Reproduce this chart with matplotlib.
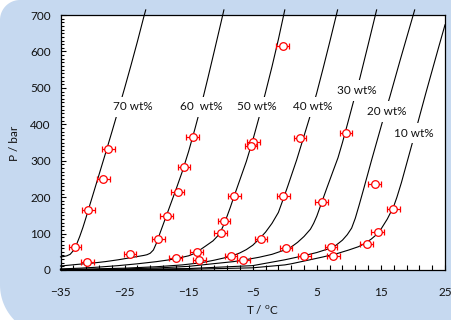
import numpy as np
import matplotlib
matplotlib.use("Agg")
import matplotlib.pyplot as plt
from matplotlib.path import Path
from matplotlib.patches import PathPatch

plt.rcParams['font.family'] = ['Lato', 'DejaVu Sans']
plt.rcParams['mathtext.fontset'] = 'custom'
plt.rcParams['mathtext.rm'] = 'Lato'
plt.rcParams['mathtext.it'] = 'Lato:italic'

# ---------------- data ----------------
c70_T = [-35, -34.5, -34, -33.5, -33, -32.5, -32, -31.5, -31, -30.66, -30, -29, -28, -27, -26, -25, -24, -23, -22, -21.7]
c70_P = [36, 37, 39, 43, 53, 70, 92, 117, 145, 165, 203, 261, 319, 378, 438, 499, 562, 627, 695, 714]

c60_T = [-35, -32, -30, -28, -26, -24, -23, -22, -21.5, -21, -20.5, -20, -19.5, -19, -18, -17, -16, -15, -14, -13, -12, -11, -10, -9.5]
c60_P = [11, 16, 19, 23, 28, 34, 37, 40, 42, 46, 55, 75, 100, 124, 172, 220, 270, 326, 389, 455, 527, 601, 676, 714]

c50_T = [-35, -32, -29, -26, -23, -20, -18, -16, -15, -14, -13.25, -12.5, -11.2, -10.5, -10, -9.5, -9, -8.5, -8, -7, -6, -5, -4, -3, -2, -1, 0]
c50_P = [3, 5, 8, 12, 17, 23, 28, 35, 39, 46, 55, 64, 80, 93, 106, 125, 148, 172, 198, 248, 298, 356, 420, 488, 558, 633, 714]

c40_T = [-35, -30, -25, -20, -16, -13, -11, -9.5, -8, -7, -6, -5, -4, -3, -2, -1, -0.24, 0.5, 1, 1.85, 3, 3.92, 4.97, 6, 7, 8.24]
c40_P = [1.5, 3, 5, 9, 14, 20, 27, 33, 40, 47, 56, 68, 85, 104, 128, 158, 195, 232, 258, 302, 368, 421, 485, 555, 625, 714]

c30_T = [-35, -30, -25, -20, -15, -11.3, -8, -6.5, -4, -2, 0, 1, 2, 3, 4, 4.5, 5, 5.75, 6.5, 7.5, 8.3, 9, 10, 10.68, 11.72, 13, 14.33]
c30_P = [1, 1.5, 3, 5.5, 10, 17, 23, 27, 35, 43, 55, 63, 76, 92, 112, 128, 148, 185, 222, 270, 308, 350, 415, 460, 527, 618, 714]

c20_T = [-35, -25, -15, -5, 0, 0.8, 3.14, 5, 6.78, 8, 9, 9.75, 10.43, 11, 11.6, 12.3, 13.55, 15.4, 16.4, 18, 20.27]
c20_P = [0.5, 1.5, 4, 12, 28, 31, 40, 48, 58, 68, 82, 97, 115, 142, 178, 222, 302, 417, 476, 576, 714]

c10_T = [-35, -25, -15, -5, 0, 1, 3.66, 6, 8.34, 10, 11.5, 12.5, 13.5, 14.5, 15.11, 16, 17, 17.5, 18.2, 19.17, 20, 21, 22, 23, 24, 25]
c10_P = [0, 0.5, 2, 6, 14, 17, 27, 36, 46, 55, 64, 73, 85, 100, 115, 140, 175, 200, 240, 302, 355, 420, 485, 548, 611, 673]

curves_T = [c70_T, c60_T, c50_T, c40_T, c30_T, c20_T, c10_T]
curves_P = [c70_P, c60_P, c50_P, c40_P, c30_P, c20_P, c10_P]

labels = ["70 wt%", "60  wt%", "50 wt%", "40 wt%", "30 wt%", "20 wt%", "10 wt%"]
label_T = [-23.7, -13.1, -4.3, 4.3, 11.26, 15.94, 20.1]
label_P = [448, 448, 448, 448, 493, 435, 376]

exp_T = [-27.54, -28.32, -30.66, -32.74, -30.82,
         -14.38, -15.73, -16.72, -18.43, -19.74, -24.16,
         -17.03, -13.75, -13.35, -10.01, -9.49,
         -4.92, -5.28, -7.89, -3.72, -8.40, -6.48,
         -0.34, 2.36, -0.24, 0.18, 3.03,
         9.54, 5.75, 7.20, 7.56,
         14.06, 16.92, 14.49, 12.77]
exp_P = [332, 249, 165, 64, 21,
         366, 282, 213, 148, 84, 43,
         34, 50, 27, 101, 135,
         352, 341, 204, 85, 39, 27,
         615, 362, 203, 60, 38,
         375, 188, 64, 39,
         236, 167, 105, 71]
exp_dT = 1.0

x_major = [-35, -25, -15, -5, 5, 15, 25]
y_major = [0, 100, 200, 300, 400, 500, 600, 700]

# ---------------- figure ----------------
W, H = 451, 320
fig = plt.figure(figsize=(W / 100, H / 100), dpi=100)
fig.patch.set_facecolor('white')

# rounded light-blue chart background (image pixel coords, y down)
def arc(cx, cy, r, a0, a1, n=30):
    a = np.linspace(np.radians(a0), np.radians(a1), n)
    return [(cx + r * np.cos(t), cy + r * np.sin(t)) for t in a]

r_tl, r_bl = 20, 50
x1, y1 = 480, 335
verts = [(r_tl, 0), (x1, 0), (x1, y1), (r_bl, y1)]
verts += arc(r_bl, y1 - r_bl, r_bl, 90, 180)
verts += [(0, r_tl)]
verts += arc(r_tl, r_tl, r_tl, 180, 270)
verts = [(vx / W, 1 - vy / H) for vx, vy in verts]
bg = PathPatch(Path(verts + [verts[0]]), transform=fig.transFigure,
               facecolor='#C6D9F0', edgecolor='none', zorder=-10)
fig.patches.append(bg)

left, right, top, bottom = 60.5, 445, 15, 270
ax = fig.add_axes([left / W, 1 - bottom / H, (right - left) / W, (bottom - top) / H])
ax.set_zorder(1)
ax.set_facecolor('white')
ax.set_xlim(-35, 25)
ax.set_ylim(0, 700)

for T, P in zip(curves_T, curves_P):
    ax.plot(T, P, color='black', lw=0.8, clip_on=False, zorder=2)

for s, t, p in zip(labels, label_T, label_P):
    ax.text(t, p, s, ha='center', va='center', fontsize=8.5, color='#111111',
            bbox=dict(boxstyle='square,pad=0.4', fc='white', ec='none'), zorder=3)

ax.errorbar(exp_T, exp_P, xerr=exp_dT, fmt='o', ms=5.5, mfc='white', mec='red',
            mew=0.9, ecolor='red', elinewidth=0.9, capsize=2.2, capthick=0.9,
            zorder=4, clip_on=False)

ax.set_xticks(x_major)
ax.set_xticks(np.arange(-35, 26, 2), minor=True)
ax.set_yticks(y_major)
ax.set_yticks(np.arange(0, 701, 10), minor=True)
ax.tick_params(axis='both', which='both', direction='in', color='black', width=0.8)
ax.tick_params(axis='x', which='major', length=3.5, pad=12, labelsize=8.5)
ax.tick_params(axis='x', which='minor', length=3.5)
ax.tick_params(axis='y', which='major', length=3.5, pad=7, labelsize=8.5)
ax.tick_params(axis='y', which='minor', length=2.2)
for lab in ax.get_xticklabels() + ax.get_yticklabels():
    lab.set_color('#111111')
for sp in ax.spines.values():
    sp.set_color('black')
    sp.set_linewidth(0.9)

fig.text(262 / W, 1 - 309 / H, 'T / $^{\\mathrm{o}}$C', ha='center', va='center',
         fontsize=8.5, color='#111111')
fig.text(14 / W, 1 - 143 / H, 'P / bar', ha='center', va='center', rotation=90,
         fontsize=8.5, color='#111111')

fig.savefig('out.png', dpi=100, facecolor=fig.get_facecolor())
